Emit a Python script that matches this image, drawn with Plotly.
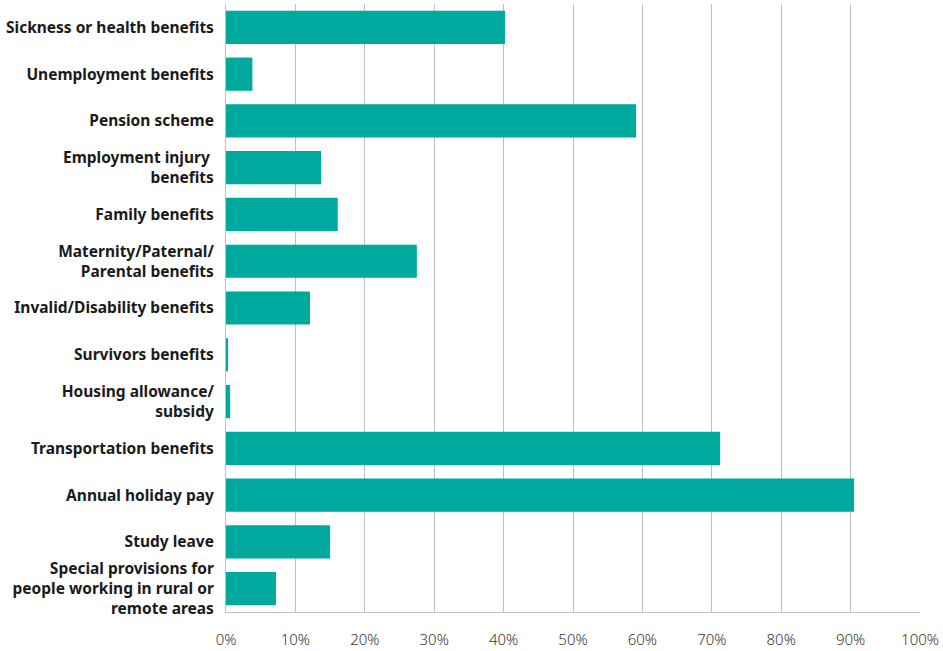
import plotly.graph_objects as go

categories = [
    "Sickness or health benefits",
    "Unemployment benefits",
    "Pension scheme",
    "Employment injury <br>benefits",
    "Family benefits",
    "Maternity/Paternal/<br>Parental benefits",
    "Invalid/Disability benefits",
    "Survivors benefits",
    "Housing allowance/<br>subsidy",
    "Transportation benefits",
    "Annual holiday pay",
    "Study leave",
    "Special provisions for<br>people working in rural or<br>remote areas",
]
values = [40.2, 3.8, 59.1, 13.7, 16.1, 27.5, 12.1, 0.25, 0.6, 71.2, 90.5, 15.0, 7.2]
tick_vals = [0, 10, 20, 30, 40, 50, 60, 70, 80, 90, 100]
tick_text = [f"{v}%" for v in tick_vals]

fig = go.Figure(go.Bar(
    x=values,
    y=categories,
    orientation="h",
    marker=dict(color="#00A99D", line=dict(width=0)),
    hoverinfo="x+y",
))

fig.update_layout(
    width=943, height=651,
    margin=dict(l=226, r=23, t=4, b=39),
    plot_bgcolor="white",
    paper_bgcolor="white",
    bargap=0.29,
    showlegend=False,
    font=dict(family="Noto Sans", color="#1a1a1a"),
)
fig.update_xaxes(
    range=[0, 100],
    tickvals=tick_vals,
    ticktext=tick_text,
    showgrid=True,
    gridcolor="#c0c0c0",
    gridwidth=1,
    showline=True,
    linecolor="#c0c0c0",
    linewidth=1,
    zeroline=False,
    tickfont=dict(family="Noto Sans", size=15, color="#333333", weight=300),
    ticks="",
    ticklabelstandoff=14,
    automargin=False,
)
fig.update_yaxes(
    autorange="reversed",
    showline=True,
    linecolor="#c0c0c0",
    linewidth=1,
    tickfont=dict(family="Noto Sans", size=15.5, color="#1a1a1a", weight="bold"),
    ticks="",
    ticklabelstandoff=8,
    automargin=False,
)

fig.write_html(
    "out.html",
    config={"displayModeBar": False},
    post_script="document.body.style.margin='0';document.body.style.padding='0';",
)
